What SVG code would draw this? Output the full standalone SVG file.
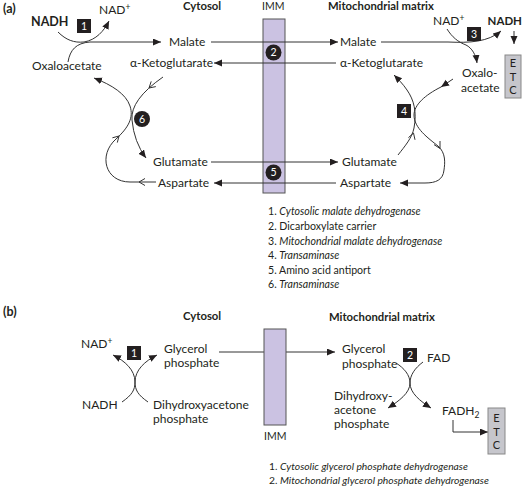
<svg xmlns="http://www.w3.org/2000/svg" width="524" height="490" viewBox="0 0 524 490">
<style>
text{font-family:Lato,"Open Sans","Liberation Sans",sans-serif;fill:#231f20;font-size:12px}
.b{font-weight:bold}
.h{font-weight:bold;font-size:11.3px}
.big{font-weight:bold;font-size:12.5px}
.lg{font-size:10.6px}
.lg2{font-size:10.3px}
.i{font-style:italic}
.ln{fill:none;stroke:#333;stroke-width:1}
.v{fill:none;stroke:#333;stroke-width:1}
.imm{fill:#cbc2e2;stroke:#555;stroke-width:1}
.etc{fill:#c6c6cc;stroke:#888;stroke-width:1}
.box{fill:#231f20}
.num{fill:#fff;font-size:10.5px;text-anchor:middle}
.c{text-anchor:middle;font-size:11px}
.sm{font-size:10.5px}
</style>
<defs>
<marker id="ah" markerUnits="userSpaceOnUse" markerWidth="9" markerHeight="8" refX="8" refY="3.5" orient="auto">
<path d="M0,0 L8,3.5 L0,7 z" fill="#231f20"/>
</marker>
</defs>

<g id="labels-a">
<text x="3" y="13" class="big">(a)</text>
<text x="183" y="10" class="h">Cytosol</text>
<text x="262" y="10" class="sm">IMM</text>
<text x="328" y="10" class="h">Mitochondrial matrix</text>
</g>

<g id="imm-a"><rect x="263" y="19" width="22" height="174" class="imm"/></g>

<g id="connectors">
<!-- reaction 1 -->
<path class="ln" d="M68,62 C70,50 76,43 90,42 L161,42" marker-end="url(#ah)"/>
<path class="ln" d="M58,32 C66,40 74,43 84,42 C96,40 104,31 109,21" marker-end="url(#ah)"/>
<!-- transport lines -->
<path class="ln" d="M211,42 L338,42" marker-end="url(#ah)"/>
<path class="ln" d="M336,63 L214,63" marker-end="url(#ah)"/>
<path class="ln" d="M211,162 L338,162" marker-end="url(#ah)"/>
<path class="ln" d="M336,183 L214,183" marker-end="url(#ah)"/>
<!-- reaction 3 -->
<path class="ln" d="M381,42 L448,42 C470,43 488,42 501,31" marker-end="url(#ah)"/>
<path class="ln" d="M447,29 C452,37 458,42 466,45 C472,48 476,55 477,63" marker-end="url(#ah)"/>
<path class="ln" d="M514,31 L514,44" marker-end="url(#ah)"/>
<!-- cycle 6 -->
<path class="ln" d="M163,77 Q130,100 132,120 Q134,142 146,158" marker-end="url(#ah)"/>
<polyline class="v" points="155.8,86.6 149,88 151.2,81.4"/>
<path class="ln" d="M156,182 L130,182 C105,182 98,155 116,139 C128,128 134,118 130,106 C126,94 112,85 94,78" marker-end="url(#ah)"/>
<polyline class="v" points="145,178.5 139,182 145,185.5"/>
<polyline class="v" points="117.3,142.6 119,136 112.4,137.8"/>
<!-- cycle 4 -->
<path class="ln" d="M453,79 L441,87" marker-end="url(#ah)"/>
<path class="ln" d="M441,87 C425,95 414,105 414,115 C414,128 428,138 438,146 C446,153 445,163 444,170 C443,180 436,183 425,183 L400,183" marker-end="url(#ah)"/>
<polyline class="v" points="440,141 440,148.5 434,144.6"/>
<path class="ln" d="M398,155 C405,146 412,138 414,128 C417,112 414,100 407,90 C403,84 398,79 394,75" marker-end="url(#ah)"/>
<polyline class="v" points="415,139.8 413.5,133 408.4,137.7"/>
<!-- part b -->
<path class="ln" d="M122,402 C132,395 135,390 135,382 C135,370 145,361 157,355" marker-end="url(#ah)"/>
<path class="ln" d="M148,402 C138,395 135,390 135,382 C135,370 125,361 113,355" marker-end="url(#ah)"/>
<path class="ln" d="M219,352 L335,352" marker-end="url(#ah)"/>
<path class="ln" d="M396,363 C404,368 410,375 410,383 C410,393 420,401 431,408" marker-end="url(#ah)"/>
<path class="ln" d="M423,362 C415,368 410,375 410,383 C410,393 399,401 388,408" marker-end="url(#ah)"/>
<path class="ln" d="M453,420 L453,432 L488,432" marker-end="url(#ah)"/>
</g>

<g id="node-nadh-a"><text x="31" y="26" class="big">NADH</text></g>
<g id="node-nad-a"><text x="99" y="14">NAD<tspan dy="-4" style="font-size:8.5px">+</tspan></text></g>
<g id="node-box1"><rect x="77" y="19" width="14" height="14" class="box"/><text x="84" y="30" class="num">1</text></g>
<g id="node-oaa-c"><text x="32" y="70">Oxaloacetate</text></g>
<g id="node-malate-c"><text x="169" y="46">Malate</text></g>
<g id="node-akg-c"><text x="130" y="67">α-Ketoglutarate</text></g>
<g id="node-glu-c"><text x="153" y="166">Glutamate</text></g>
<g id="node-asp-c"><text x="158" y="187">Aspartate</text></g>
<g id="node-c6"><circle cx="142" cy="119" r="8" fill="#231f20"/><text x="142" y="122.5" class="num">6</text></g>
<g id="node-c2"><circle cx="273.5" cy="52.5" r="8" fill="#231f20"/><text x="273.5" y="56" class="num">2</text></g>
<g id="node-c5"><circle cx="273.5" cy="172.5" r="8" fill="#231f20"/><text x="273.5" y="176" class="num">5</text></g>
<g id="node-malate-m"><text x="340" y="46">Malate</text></g>
<g id="node-akg-m"><text x="340" y="67">α-Ketoglutarate</text></g>
<g id="node-glu-m"><text x="342" y="166">Glutamate</text></g>
<g id="node-asp-m"><text x="340" y="187">Aspartate</text></g>
<g id="node-nad-m"><text x="433" y="25">NAD<tspan dy="-4" style="font-size:8.5px">+</tspan></text></g>
<g id="node-box3"><rect x="467" y="27" width="14" height="14" class="box"/><text x="474" y="38" class="num">3</text></g>
<g id="node-nadh-m"><text x="522" y="25" style="font-weight:bold;font-size:11.5px;text-anchor:end">NADH</text></g>
<g id="node-oaa-m"><text x="462" y="77">Oxalo-</text><text x="461" y="92">acetate</text></g>
<g id="node-box4"><rect x="397" y="104" width="14" height="14" class="box"/><text x="404" y="115" class="num">4</text></g>
<g id="node-etc-a"><rect x="505" y="55" width="16" height="43" class="etc"/><text x="513" y="67" class="c">E</text><text x="513" y="81" class="c">T</text><text x="513" y="94" class="c">C</text></g>

<g id="legend-a">
<text x="268" y="215" class="lg">1. <tspan class="i">Cytosolic malate dehydrogenase</tspan></text>
<text x="268" y="230" class="lg">2. Dicarboxylate carrier</text>
<text x="268" y="245" class="lg">3. <tspan class="i">Mitochondrial malate dehydrogenase</tspan></text>
<text x="268" y="259" class="lg">4. <tspan class="i">Transaminase</tspan></text>
<text x="268" y="274" class="lg">5. Amino acid antiport</text>
<text x="268" y="288" class="lg">6. <tspan class="i">Transaminase</tspan></text>
</g>

<g id="labels-b">
<text x="3" y="316" class="big">(b)</text>
<text x="183" y="320" class="h">Cytosol</text>
<text x="329" y="321" class="h">Mitochondrial matrix</text>
<text x="264" y="440" class="sm">IMM</text>
</g>
<g id="imm-b"><rect x="264" y="329" width="22" height="96" class="imm"/></g>

<g id="node-nad-b"><text x="81" y="348">NAD<tspan dy="-4" style="font-size:8.5px">+</tspan></text></g>
<g id="node-box1b"><rect x="127" y="346" width="14" height="14" class="box"/><text x="134" y="357" class="num">1</text></g>
<g id="node-gp-c"><text x="164" y="353">Glycerol</text><text x="164" y="367">phosphate</text></g>
<g id="node-nadh-b"><text x="82" y="409">NADH</text></g>
<g id="node-dhap-c"><text x="153" y="409">Dihydroxyacetone</text><text x="153" y="423">phosphate</text></g>
<g id="node-gp-m"><text x="342" y="353">Glycerol</text><text x="342" y="368">phosphate</text></g>
<g id="node-box2b"><rect x="403" y="348" width="14" height="14" class="box"/><text x="410" y="359" class="num">2</text></g>
<g id="node-fad"><text x="427" y="362">FAD</text></g>
<g id="node-dhap-m"><text x="334" y="400">Dihydroxy-</text><text x="334" y="414">acetone</text><text x="334" y="428">phosphate</text></g>
<g id="node-fadh2"><text x="442" y="415">FADH<tspan dy="3" style="font-size:8.5px">2</tspan></text></g>
<g id="node-etc-b"><rect x="488" y="408" width="17" height="46" class="etc"/><text x="496.5" y="422" class="c">E</text><text x="496.5" y="436" class="c">T</text><text x="496.5" y="449" class="c">C</text></g>

<g id="legend-b">
<text x="269" y="470" class="lg2">1. <tspan class="i">Cytosolic glycerol phosphate dehydrogenase</tspan></text>
<text x="269" y="484" class="lg2">2. <tspan class="i">Mitochondrial glycerol phosphate dehydrogenase</tspan></text>
</g>
</svg>
